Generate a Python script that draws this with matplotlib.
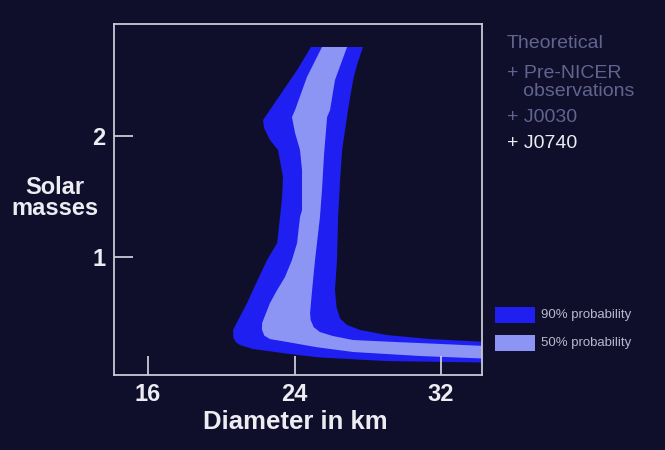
import matplotlib.pyplot as plt
from matplotlib.patches import Rectangle

BG = "#0f0f2c"
DARK = "#1f1ff2"
LIGHT = "#8c95f4"
AXIS = "#c9c9d6"
TEXT = "#ececf2"
DIM = "#60648e"

# 90% probability band (diameter km, solar masses), traced around the outline
outer_d = [24.90, 24.14, 23.21, 22.28, 22.34, 22.66, 23.10, 23.37, 23.32, 23.21,
           23.05, 22.50, 21.73, 21.41, 20.92, 20.64, 20.66, 20.80, 21.02, 21.73,
           23.76, 25.39, 29.05, 34.5, 34.5, 31.40, 29.05, 27.58, 26.87, 26.50,
           26.30, 26.21, 26.32, 26.38, 26.49, 26.60, 26.76, 26.92, 27.20, 27.41,
           27.74]
outer_m = [2.736, 2.545, 2.339, 2.132, 2.066, 1.967, 1.884, 1.661, 1.496, 1.331,
           1.116, 0.975, 0.727, 0.620, 0.479, 0.397, 0.335, 0.295, 0.273, 0.240,
           0.198, 0.170, 0.140, 0.128, 0.298, 0.322, 0.355, 0.397, 0.438, 0.490,
           0.580, 0.727, 0.975, 1.331, 1.636, 1.884, 2.050, 2.215, 2.463, 2.587,
           2.736]

# 50% probability band
inner_d = [25.50, 24.68, 24.03, 23.86, 24.03, 24.30, 24.41, 24.41, 24.30, 24.14,
           23.86, 23.48, 23.05, 22.66, 22.23, 22.22, 22.35, 22.66, 23.59, 25.20,
           27.20, 30.86, 34.5, 34.5, 30.86, 29.76, 27.20, 26.10, 25.39, 25.05,
           24.88, 24.85, 24.96, 25.12, 25.39, 25.50, 25.61, 25.78, 25.94, 26.21,
           26.87]
inner_m = [2.736, 2.488, 2.215, 2.157, 2.025, 1.884, 1.719, 1.388, 1.331, 1.116,
           0.975, 0.835, 0.727, 0.620, 0.455, 0.400, 0.350, 0.322, 0.298, 0.255,
           0.215, 0.182, 0.160, 0.264, 0.289, 0.296, 0.314, 0.347, 0.380, 0.420,
           0.480, 0.537, 0.727, 0.975, 1.331, 1.554, 1.843, 2.157, 2.215, 2.463,
           2.736]

x_ticks = [16, 24, 32]
y_ticks = [1, 2]

legend_lines = [("Theoretical", DIM), ("+ Pre-NICER", DIM), ("   observations", DIM),
                ("+ J0030", DIM), ("+ J0740", TEXT)]
legend_y = [43, 73, 92, 118, 143]

plt.rcParams["font.family"] = ["Liberation Sans", "DejaVu Sans"]

fig = plt.figure(figsize=(6.65, 4.5), dpi=100, facecolor=BG)
W, H = 665, 450
ax = fig.add_axes([114 / W, 1 - 375 / H, (482 - 114) / W, (375 - 24) / H])
ax.set_facecolor(BG)

ax.fill(outer_d, outer_m, color=DARK, lw=0)
ax.fill(inner_d, inner_m, color=LIGHT, lw=0)

ax.set_xlim(14.14, 34.24)
ax.set_ylim(0.025, 2.926)
ax.set_xticks(x_ticks)
ax.set_yticks(y_ticks)
ax.tick_params(direction="in", length=14, width=1.3, color=AXIS, labelcolor=TEXT,
               labelsize=17)
ax.tick_params(axis="x", pad=6)
ax.tick_params(axis="y", pad=6)
for lab in ax.get_xticklabels() + ax.get_yticklabels():
    lab.set_fontweight("bold")
for s in ax.spines.values():
    s.set_color(AXIS)
    s.set_linewidth(1.3)

fig.text(55 / W, 1 - 198 / H, "Solar\nmasses", ha="center", va="center",
         fontsize=17, fontweight="bold", color=TEXT, linespacing=0.9)
fig.text(295 / W, 1 - 422 / H, "Diameter in km", ha="center", va="center",
         fontsize=18.5, fontweight="bold", color=TEXT)

for (txt, c), y in zip(legend_lines, legend_y):
    fig.text(507 / W, 1 - y / H, txt, ha="left", va="center", fontsize=14, color=c)

for y, col, lab in [(315, DARK, "90% probability"), (343, LIGHT, "50% probability")]:
    fig.add_artist(Rectangle((495 / W, 1 - (y + 8) / H), 40 / W, 16 / H,
                             transform=fig.transFigure, color=col, lw=0))
    fig.text(541 / W, 1 - y / H, lab, ha="left", va="center", fontsize=9.5,
             color="#b8b8cc")

fig.savefig("out.png", dpi=100, facecolor=BG)
